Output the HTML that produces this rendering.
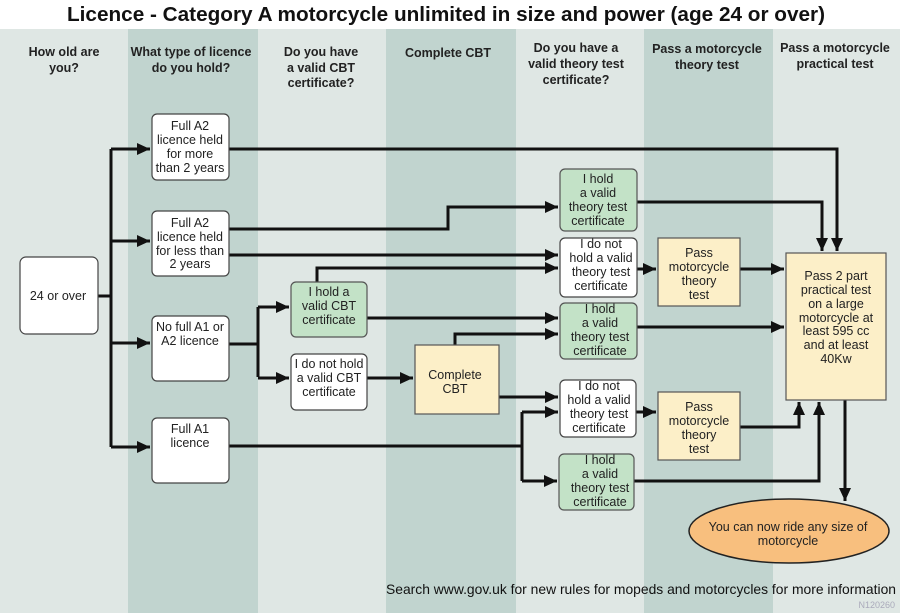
<!DOCTYPE html>
<html><head><meta charset="utf-8"><style>
html,body{margin:0;padding:0;background:#fff;}
svg{display:block;font-family:"Liberation Sans",sans-serif;}
.h{font-weight:bold;font-size:12.5px;fill:#222;text-anchor:middle;}
.t{font-size:12.5px;fill:#222;text-anchor:middle;}
.w{fill:#fff;stroke:#444;stroke-width:1.2;}
.g{fill:#c3e2c7;stroke:#555;stroke-width:1.2;}
.y{fill:#fcefc8;stroke:#555;stroke-width:1.2;}
.l{fill:none;stroke:#111;stroke-width:3;}
</style></head><body>
<svg width="900" height="613" viewBox="0 0 900 613">
<defs>
<marker id="b" markerWidth="13" markerHeight="12" refX="13" refY="6" orient="auto" markerUnits="userSpaceOnUse"><path d="M0,0 L13,6 L0,12z" fill="#111"/></marker></defs>
<rect x="0" y="0" width="900" height="29" fill="#fff"/>
<text x="446" y="21" text-anchor="middle" font-weight="bold" font-size="20" fill="#111" textLength="758" lengthAdjust="spacingAndGlyphs">Licence - Category A motorcycle unlimited in size and power (age 24 or over)</text>
<rect x="0" y="29" width="128" height="584" fill="#dfe7e4"/>
<rect x="128" y="29" width="130" height="584" fill="#c1d4cf"/>
<rect x="258" y="29" width="128" height="584" fill="#dfe7e4"/>
<rect x="386" y="29" width="130" height="584" fill="#c1d4cf"/>
<rect x="516" y="29" width="128" height="584" fill="#dfe7e4"/>
<rect x="644" y="29" width="129" height="584" fill="#c1d4cf"/>
<rect x="773" y="29" width="127" height="584" fill="#dfe7e4"/>

<text class="h" x="64" y="56">How old are</text><text class="h" x="64" y="72">you?</text>
<text class="h" x="191" y="56">What type of licence</text><text class="h" x="191" y="72">do you hold?</text>
<text class="h" x="321" y="56">Do you have</text><text class="h" x="321" y="72">a valid CBT</text><text class="h" x="321" y="87">certificate?</text>
<text class="h" x="448" y="57">Complete CBT</text>
<text class="h" x="576" y="52">Do you have a</text><text class="h" x="576" y="68">valid theory test</text><text class="h" x="576" y="84">certificate?</text>
<text class="h" x="707" y="53">Pass a motorcycle</text><text class="h" x="707" y="69">theory test</text>
<text class="h" x="835" y="52">Pass a motorcycle</text><text class="h" x="835" y="68">practical test</text>

<g class="l">
<path d="M98,296 H111"/>
<path d="M111,149 V447"/>
<path d="M111,149 H150" marker-end="url(#b)"/>
<path d="M111,241 H150" marker-end="url(#b)"/>
<path d="M111,343 H150" marker-end="url(#b)"/>
<path d="M111,447 H150" marker-end="url(#b)"/>
<path d="M229,149 H837 V251" marker-end="url(#b)"/>
<path d="M229,229 H448 V207 H558" marker-end="url(#b)"/>
<path d="M229,255 H558" marker-end="url(#b)"/>
<path d="M637,202 H822 V251" marker-end="url(#b)"/>
<path d="M317,282 V268 H558" marker-end="url(#b)"/>
<path d="M637,269 H656" marker-end="url(#b)"/>
<path d="M740,269 H784" marker-end="url(#b)"/>
<path d="M229,344 H258"/>
<path d="M258,307 V377"/>
<path d="M258,307 H289" marker-end="url(#b)"/>
<path d="M258,378 H289" marker-end="url(#b)"/>
<path d="M367,318 H558" marker-end="url(#b)"/>
<path d="M455,345 V334 H558" marker-end="url(#b)"/>
<path d="M637,327 H784" marker-end="url(#b)"/>
<path d="M367,378 H413" marker-end="url(#b)"/>
<path d="M499,397 H558" marker-end="url(#b)"/>
<path d="M229,446 H522"/>
<path d="M522,412 V481"/>
<path d="M522,412 H558" marker-end="url(#b)"/>
<path d="M522,481 H557" marker-end="url(#b)"/>
<path d="M636,412 H656" marker-end="url(#b)"/>
<path d="M740,427 H799 V402" marker-end="url(#b)"/>
<path d="M634,481 H819 V402" marker-end="url(#b)"/>
<path d="M845,400 V501" marker-end="url(#b)"/>
</g>

<rect class="w" x="20" y="257" width="78" height="77" rx="6"/>
<text class="t" x="58" y="300">24 or over</text>

<rect class="w" x="152" y="114" width="77" height="66" rx="5"/>
<text class="t" x="190" y="130">Full A2</text><text class="t" x="190" y="144">licence held</text><text class="t" x="190" y="158">for more</text><text class="t" x="190" y="172">than 2 years</text>

<rect class="w" x="152" y="211" width="77" height="65" rx="5"/>
<text class="t" x="190" y="227">Full A2</text><text class="t" x="190" y="241">licence held</text><text class="t" x="190" y="255">for less than</text><text class="t" x="190" y="268">2 years</text>

<rect class="w" x="152" y="316" width="77" height="65" rx="5"/>
<text class="t" x="190" y="331">No full A1 or</text><text class="t" x="190" y="345">A2 licence</text>

<rect class="w" x="152" y="418" width="77" height="65" rx="5"/>
<text class="t" x="190" y="433">Full A1</text><text class="t" x="190" y="447">licence</text>

<rect class="g" x="291" y="282" width="76" height="55" rx="5"/>
<text class="t" x="329" y="296">I hold a</text><text class="t" x="329" y="310">valid CBT</text><text class="t" x="329" y="324">certificate</text>

<rect class="w" x="291" y="354" width="76" height="56" rx="5"/>
<text class="t" x="329" y="368">I do not hold</text><text class="t" x="329" y="382">a valid CBT</text><text class="t" x="329" y="396">certificate</text>

<rect class="y" x="415" y="345" width="84" height="69"/>
<text class="t" x="455" y="379">Complete</text><text class="t" x="455" y="393">CBT</text>

<rect class="g" x="560" y="169" width="77" height="62" rx="5"/>
<text class="t" x="598" y="183">I hold</text><text class="t" x="598" y="197">a valid</text><text class="t" x="598" y="211">theory test</text><text class="t" x="598" y="225">certificate</text>

<rect class="w" x="560" y="238" width="77" height="59" rx="5"/>
<text class="t" x="601" y="248">I do not</text><text class="t" x="601" y="262">hold a valid</text><text class="t" x="601" y="276">theory test</text><text class="t" x="601" y="290">certificate</text>

<rect class="g" x="560" y="303" width="77" height="56" rx="5"/>
<text class="t" x="600" y="313">I hold</text><text class="t" x="600" y="327">a valid</text><text class="t" x="600" y="341">theory test</text><text class="t" x="600" y="355">certificate</text>

<rect class="w" x="560" y="380" width="76" height="57" rx="5"/>
<text class="t" x="599" y="390">I do not</text><text class="t" x="599" y="404">hold a valid</text><text class="t" x="599" y="418">theory test</text><text class="t" x="599" y="432">certificate</text>

<rect class="g" x="559" y="454" width="75" height="56" rx="5"/>
<text class="t" x="600" y="464">I hold</text><text class="t" x="600" y="478">a valid</text><text class="t" x="600" y="492">theory test</text><text class="t" x="600" y="506">certificate</text>

<rect class="y" x="658" y="238" width="82" height="68"/>
<text class="t" x="699" y="257">Pass</text><text class="t" x="699" y="271">motorcycle</text><text class="t" x="699" y="285">theory</text><text class="t" x="699" y="299">test</text>

<rect class="y" x="658" y="392" width="82" height="68"/>
<text class="t" x="699" y="411">Pass</text><text class="t" x="699" y="425">motorcycle</text><text class="t" x="699" y="439">theory</text><text class="t" x="699" y="453">test</text>

<rect class="y" x="786" y="253" width="100" height="147"/>
<text class="t" x="836" y="280">Pass 2 part</text><text class="t" x="836" y="294">practical test</text><text class="t" x="836" y="308">on a large</text><text class="t" x="836" y="322">motorcycle at</text><text class="t" x="836" y="335">least 595 cc</text><text class="t" x="836" y="349">and at least</text><text class="t" x="836" y="363">40Kw</text>

<ellipse cx="789" cy="531" rx="100" ry="32" fill="#f8bf7e" stroke="#222" stroke-width="1.5"/>
<text class="t" x="788" y="531">You can now ride any size of</text><text class="t" x="788" y="545">motorcycle</text>

<text x="641" y="594" text-anchor="middle" font-size="14" fill="#111" textLength="510" lengthAdjust="spacingAndGlyphs">Search www.gov.uk for new rules for mopeds and motorcycles for more information</text>
<text x="895" y="608" text-anchor="end" font-size="9" fill="#aab">N120260</text>
</svg>
</body></html>
